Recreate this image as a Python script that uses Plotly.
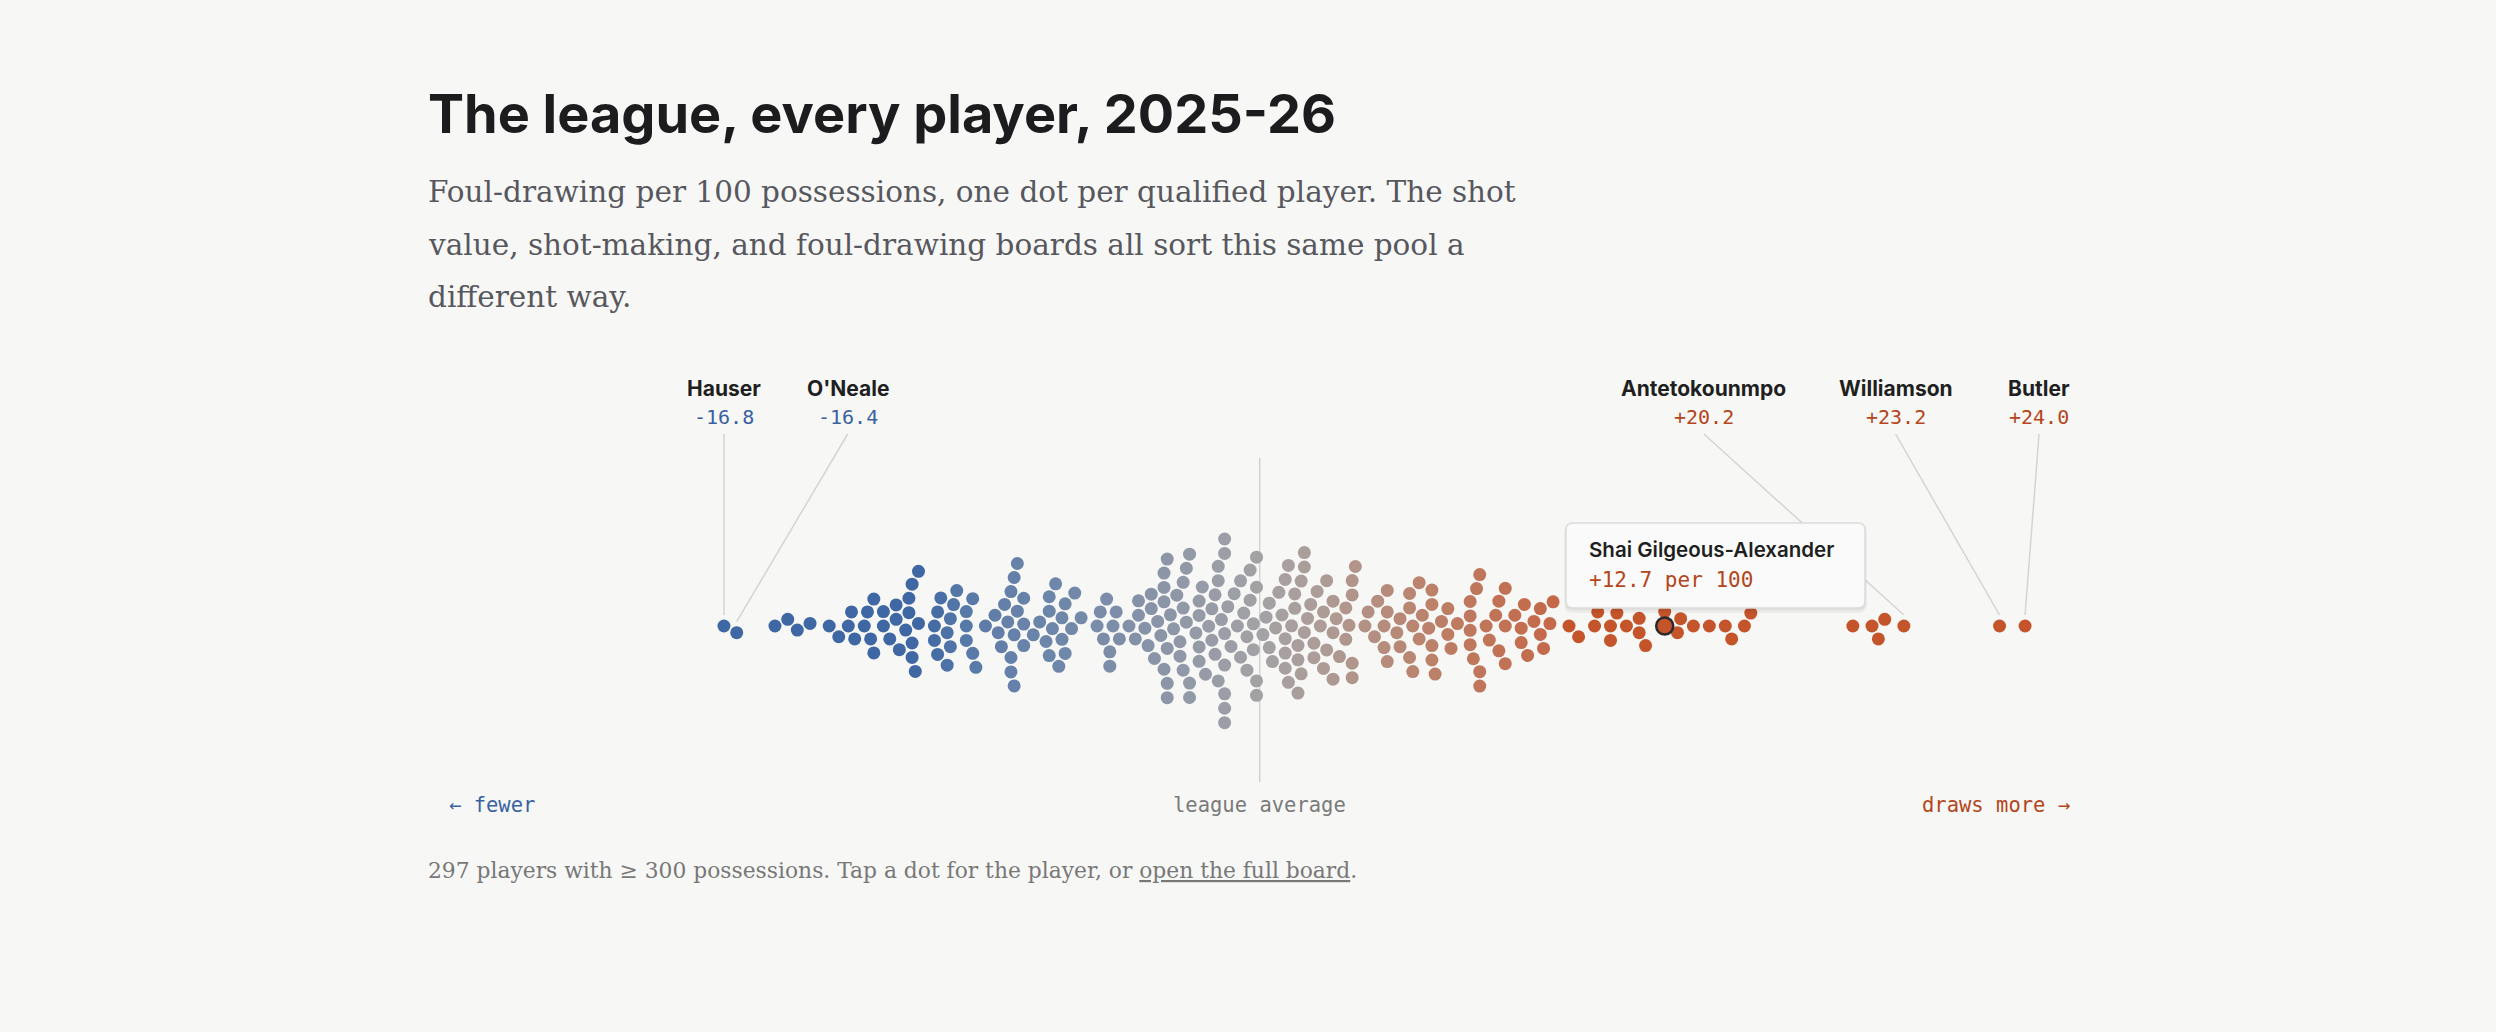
import numpy as np
import plotly.graph_objects as go

# ---------------- data (foul-drawing per 100 possessions, relative to league average) ----------------
values_below_avg = [
    -16.8, -16.4, -15.2, -14.8, -14.5, -14.1, -13.5, -13.2, -12.9, -12.8,
    -12.7, -12.4, -12.3, -12.2, -12.1, -12.1, -11.8, -11.8, -11.6, -11.4,
    -11.4, -11.3, -11.1, -11.0, -11.0, -10.9, -10.9, -10.9, -10.8, -10.7, -10.7,
    -10.2, -10.2, -10.1, -10.1, -10.0, -9.8, -9.8, -9.7, -9.7, -9.6, -9.5,
    -9.2, -9.2, -9.2, -9.0, -9.0, -8.9,
    -8.6, -8.3, -8.2, -8.1, -8.0, -7.9, -7.8, -7.8, -7.8, -7.7, -7.7, -7.7,
    -7.6, -7.6, -7.4, -7.4, -7.4,
    -7.1, -6.9, -6.7, -6.6, -6.6, -6.6, -6.5, -6.4, -6.3, -6.2, -6.2, -6.1,
    -6.1, -5.9, -5.8, -5.6,
    -5.1, -5.0, -4.9, -4.8, -4.7, -4.7, -4.6, -4.5, -4.4,
    -4.1, -3.9, -3.8, -3.8, -3.5, -3.6, -3.4, -3.4, -3.3, -3.2,
    -3.1, -3.0, -2.9, -2.9, -2.9, -2.9, -3.0, -3.0, -3.0, -2.8,
    -2.7, -2.6, -2.5, -2.4, -2.5, -2.4, -2.3, -2.2, -2.4, -2.3,
    -2.2, -2.2, -1.9, -1.9, -1.7, -2.0, -1.9, -1.8, -1.6, -1.9,
    -1.5, -1.4, -1.3, -1.2, -1.1, -1.1, -1.1, -1.5, -1.4, -1.3,
    -1.3, -1.1, -1.1, -1.1, -1.0, -1.1, -0.9, -0.8, -0.6, -0.4,
    -0.2, -0.1, -0.6, -0.7, -0.5, -0.3, -0.1, -0.4, -0.3, -0.1,
    -0.2, -0.1,
]
values_above_avg = [
    0.1, 0.2, 0.3, 0.3, 0.4, 0.5, 0.6, 0.7, 0.8, 0.8,
    0.9, 1.1, 0.8, 0.8, 0.9, 1.0, 1.1, 1.2, 1.2, 1.2,
    1.3, 1.3, 1.4, 1.4, 1.4, 1.5, 1.6, 1.7, 1.7, 1.8,
    1.9, 2.0, 2.0, 2.1, 2.1, 2.3, 2.3, 2.3, 2.4, 2.5,
    2.7, 2.7, 2.8, 2.9, 2.9, 2.9, 2.9, 3.0,
    3.3, 3.4, 3.6, 3.7, 3.9, 3.9, 4.0, 4.0, 4.0,
    4.3, 4.4, 4.4, 4.7, 4.7, 4.7, 4.8, 4.8, 5.0, 5.0, 5.1, 5.3, 5.4, 5.4,
    5.4, 5.4, 5.5, 5.7, 5.9, 5.9, 6.0, 6.2,
    6.6, 6.6, 6.6, 6.6, 6.7, 6.8, 6.9, 6.9, 6.9, 7.1, 7.2, 7.4, 7.5, 7.5,
    7.7, 7.7, 7.7, 8.0,
    8.2, 8.2, 8.3, 8.4, 8.6, 8.8, 8.8, 8.9, 9.1, 9.2,
    9.7, 10.0, 10.5, 10.6, 11.0, 11.0, 11.2, 11.5, 11.9, 11.9, 12.1,
    12.7, 12.7, 13.1, 13.2, 13.6, 14.1, 14.6, 14.8, 15.2, 15.4,
    18.6, 19.2, 19.4, 19.6, 20.2,
    23.2, 24.0,
]
labeled_names = ["Hauser", "O'Neale", "Antetokounmpo", "Williamson", "Butler"]
labeled_values = [-16.8, -16.4, 20.2, 23.2, 24.0]
highlight_name = "Shai Gilgeous-Alexander"
highlight_value = 12.7
n_players = 297
min_possessions = 300

TITLE = "The league, every player, 2025-26"
SUBTITLE_LINES = [
    "Foul-drawing per 100 possessions, one dot per qualified player. The shot",
    "value, shot-making, and foul-drawing boards all sort this same pool a",
    "different way.",
]

values = values_below_avg + values_above_avg

# ---------------- layout constants ----------------
W, H = 2496, 1032
PX_PER_UNIT = 31.89
ZERO_PX = 1259.7
CENTER_Y = 626
DOT_D = 14.4
DOT_SIZE = 13
BG = "#f7f7f6"
BLUE_TXT = "#3a62a0"
ORANGE_TXT = "#b4461c"
LABEL_DX = {"Hauser": 0, "O'Neale": 111, "Antetokounmpo": -200, "Williamson": -104, "Butler": 14}


def px2x(px):
    return (px - ZERO_PX) / PX_PER_UNIT


def swarm(vals):
    xs = np.array(vals, dtype=float) * PX_PER_UNIT
    order = np.argsort(xs, kind="stable")
    ys = np.zeros(len(vals))
    placed = []
    flip = 1
    D2 = DOT_D * DOT_D
    for i in order:
        x = float(xs[i])
        near = [(xj, yj) for xj, yj in placed if abs(xj - x) < DOT_D]
        cands = [0.0]
        for xj, yj in near:
            h = max(D2 - (x - xj) ** 2, 0.0) ** 0.5
            cands += [yj + h, yj - h]
        cands.sort(key=lambda c: (round(abs(c), 4), -c * flip))
        chosen = None
        for c in cands:
            if all((x - xj) ** 2 + (c - yj) ** 2 >= D2 - 1e-3 for xj, yj in near):
                chosen = c
                break
        if chosen is None:
            chosen = max(cands, key=abs)
        if chosen != 0:
            flip = -flip
        ys[i] = chosen
        placed.append((x, chosen))
    return ys


offsets = swarm(values)
ys = CENTER_Y + offsets

# colour scale (diverging, blue -> grey -> burnt orange)
stop_vals = [-10.5, -9.5, -8, -6, -4, -2, 0, 2, 4, 6, 8, 9.2, 9.7]
stop_cols = ["#3e67a3", "#5477a8", "#6480a9", "#7088a9", "#8390a8", "#949aa7", "#a3a2a5",
             "#ad9c96", "#b68b7b", "#bd7c62", "#c26f51", "#c5684a", "#c4552b"]
CMIN, CMAX = stop_vals[0], stop_vals[-1]
colorscale = [[(v - CMIN) / (CMAX - CMIN), c] for v, c in zip(stop_vals, stop_cols)]

fig = go.Figure()
fig.add_trace(go.Scatter(
    x=values, y=ys, mode="markers",
    marker=dict(size=DOT_SIZE, color=values, colorscale=colorscale, cmin=CMIN, cmax=CMAX,
                line=dict(width=0)),
    hoverinfo="skip", showlegend=False,
))

# highlighted player
cand = [i for i, v in enumerate(values) if abs(v - highlight_value) < 1e-9]
hi = min(cand, key=lambda i: abs(offsets[i]))
fig.add_trace(go.Scatter(
    x=[values[hi]], y=[ys[hi]], mode="markers",
    marker=dict(size=17, color=[values[hi]], colorscale=colorscale, cmin=CMIN, cmax=CMAX,
                line=dict(width=2.5, color="#2a2a2c")),
    hoverinfo="skip", showlegend=False,
))

shapes = []
annotations = []

# league-average line
shapes.append(dict(type="line", xref="x", yref="y", x0=0, x1=0, y0=458, y1=782,
                   line=dict(color="#d2d2d2", width=1.5), layer="below"))

# labeled players: leader lines + labels
for name, v in zip(labeled_names, labeled_values):
    idx = next(i for i, vv in enumerate(values) if abs(vv - v) < 1e-9)
    dot_px = ZERO_PX + values[idx] * PX_PER_UNIT
    lab_px = dot_px + LABEL_DX[name]
    shapes.append(dict(type="line", xref="x", yref="y",
                       x0=px2x(lab_px), y0=434, x1=values[idx], y1=ys[idx] - 11,
                       line=dict(color="#d4d4d4", width=1.5), layer="below"))
    annotations.append(dict(x=px2x(lab_px), y=388, xref="x", yref="y", text=name, showarrow=False,
                            xanchor="center", yanchor="middle",
                            font=dict(family="Inter", size=21, color="#1f1f22", weight=700)))
    annotations.append(dict(x=px2x(lab_px), y=417, xref="x", yref="y", text=f"{v:+.1f}",
                            showarrow=False, xanchor="center", yanchor="middle",
                            font=dict(family="DejaVu Sans Mono", size=20,
                                      color=BLUE_TXT if v < 0 else ORANGE_TXT)))


def rr_path(x0, y0, x1, y1, r):
    X = px2x
    return (f"M {X(x0 + r)} {y0} L {X(x1 - r)} {y0} Q {X(x1)} {y0} {X(x1)} {y0 + r} "
            f"L {X(x1)} {y1 - r} Q {X(x1)} {y1} {X(x1 - r)} {y1} "
            f"L {X(x0 + r)} {y1} Q {X(x0)} {y1} {X(x0)} {y1 - r} "
            f"L {X(x0)} {y0 + r} Q {X(x0)} {y0} {X(x0 + r)} {y0} Z")


# tooltip
TT = (1566, 523, 1865, 608)
shapes.append(dict(type="path", xref="x", yref="y", path=rr_path(TT[0] - 2, TT[1] + 1, TT[2] + 2, TT[3] + 5, 9),
                   fillcolor="rgba(0,0,0,0.045)", line=dict(width=0), layer="above"))
shapes.append(dict(type="path", xref="x", yref="y", path=rr_path(TT[0] - 1, TT[1], TT[2] + 1, TT[3] + 2.5, 8),
                   fillcolor="rgba(0,0,0,0.05)", line=dict(width=0), layer="above"))
shapes.append(dict(type="path", xref="x", yref="y", path=rr_path(*TT, 7),
                   fillcolor="#fafafa", line=dict(color="#dcdcdc", width=1.5), layer="above"))
annotations.append(dict(x=px2x(1587), y=549, xref="x", yref="y", text=highlight_name, showarrow=False,
                        xanchor="left", yanchor="middle",
                        font=dict(family="Inter", size=20.5, color="#1f1f22", weight=600)))
annotations.append(dict(x=px2x(1587), y=580, xref="x", yref="y", text=f"{highlight_value:+.1f} per 100",
                        showarrow=False, xanchor="left", yanchor="middle",
                        font=dict(family="DejaVu Sans Mono", size=21, color=ORANGE_TXT)))

# title & subtitle
annotations.append(dict(x=px2x(426), y=113, xref="x", yref="y", text=TITLE, showarrow=False,
                        xanchor="left", yanchor="middle",
                        font=dict(family="Inter", size=54, color="#1c1c1f", weight=700)))
for k, line in enumerate(SUBTITLE_LINES):
    annotations.append(dict(x=px2x(426), y=192 + 52.5 * k, xref="x", yref="y", text=line, showarrow=False,
                            xanchor="left", yanchor="middle",
                            font=dict(family="DejaVu Serif", size=29.5, color="#57575e")))

# axis end labels
annotations.append(dict(x=px2x(447), y=805, xref="x", yref="y", text="← fewer", showarrow=False,
                        xanchor="left", yanchor="middle",
                        font=dict(family="DejaVu Sans Mono", size=20.5, color=BLUE_TXT)))
annotations.append(dict(x=0, y=805, xref="x", yref="y", text="league average", showarrow=False,
                        xanchor="center", yanchor="middle",
                        font=dict(family="DejaVu Sans Mono", size=20.5, color="#7a7a7a")))
annotations.append(dict(x=px2x(2072), y=805, xref="x", yref="y", text="draws more →", showarrow=False,
                        xanchor="right", yanchor="middle",
                        font=dict(family="DejaVu Sans Mono", size=20.5, color=ORANGE_TXT)))

# footer
footer = (f"{n_players} players with ≥ {min_possessions} possessions. Tap a dot for the player, or "
          f"<span style='text-decoration:underline'>open the full board</span>.")
annotations.append(dict(x=px2x(426), y=870, xref="x", yref="y", text=footer, showarrow=False,
                        xanchor="left", yanchor="middle",
                        font=dict(family="DejaVu Serif", size=21.8, color="#787878")))

fig.update_layout(
    width=W, height=H, autosize=False,
    margin=dict(l=0, r=0, t=0, b=0, pad=0),
    paper_bgcolor=BG, plot_bgcolor=BG,
    xaxis=dict(range=[px2x(0), px2x(W)], visible=False, fixedrange=True),
    yaxis=dict(range=[H, 0], visible=False, fixedrange=True),
    shapes=shapes, annotations=annotations,
    showlegend=False,
)

fig.write_html("out.html", config={"displayModeBar": False},
               post_script="document.body.style.margin='0';document.body.style.overflow='hidden';")
